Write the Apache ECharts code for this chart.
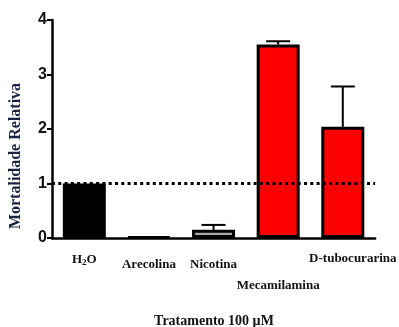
<!DOCTYPE html>
<html><head><meta charset="utf-8">
<script src="https://cdn.jsdelivr.net/npm/echarts@6/dist/echarts.min.js"></script>
<style>html,body{margin:0;padding:0;background:#fff}#c{width:399px;height:327px}</style>
</head><body><div id="c"></div>
<script>
var categories = ['H2O', 'Arecolina', 'Nicotina', 'Mecamilamina', 'D-tubocurarina'];
var values = [1.0, 0.02, 0.15, 3.55, 2.04];
var errors = [0, 0, 0.09, 0.06, 0.74];
var fills = ['#000000', '#000000', '#a6a6a6', '#ff0000', '#ff0000'];
var yTicks = [0, 1, 2, 3, 4];
var refLine = 1;
var xTitle = 'Tratamento 100 \u00b5M';
var yTitle = 'Mortalidade Relativa';

var serif = 'Liberation Serif';
var chart = echarts.init(document.getElementById('c'), null, {renderer: 'canvas'});
chart.setOption({
  animation: false,
  grid: {left: 52, right: 19, top: 20, bottom: 89},
  xAxis: {
    type: 'category', data: categories,
    axisLine: {lineStyle: {color: '#000', width: 2.5}},
    axisTick: {show: false},
    axisLabel: {
      margin: 14, interval: 0,
      formatter: function (v) {
        if (v === 'H2O') return '{h2o|H}{sub|2}{h2o|O}';
        if (v === 'Mecamilamina') return '{low|' + v + '}';
        if (v === 'D-tubocurarina') return '{right|' + v + '}';
        return '{n|' + v + '}';
      },
      rich: {
        h2o: {fontFamily: serif, fontWeight: 'bold', fontSize: 13, color: '#111'},
        sub: {fontFamily: serif, fontWeight: 'bold', fontSize: 9, color: '#111', padding: [6, 0, 0, 0]},
        n: {fontFamily: serif, fontWeight: 'bold', fontSize: 13, color: '#111', padding: [6, 0, 0, 0]},
        low: {fontFamily: serif, fontWeight: 'bold', fontSize: 13, color: '#111', padding: [27, 0, 0, 0]},
        right: {fontFamily: serif, fontWeight: 'bold', fontSize: 13, color: '#111', padding: [0, 0, 0, 20]}
      }
    }
  },
  yAxis: {
    type: 'value', min: 0, max: 4, interval: 1,
    splitLine: {show: false},
    axisLine: {show: true, lineStyle: {color: '#000', width: 2.5}},
    axisTick: {show: true, length: 5, lineStyle: {color: '#000', width: 2}},
    axisLabel: {fontFamily: 'Liberation Sans', fontWeight: 'bold', fontSize: 16, color: '#111', margin: 5,
      formatter: function (v) { return yTicks.indexOf(v) >= 0 ? String(v) : ''; }}
  },
  graphic: [
    {type: 'text', x: 16, y: 156, rotation: Math.PI / 2,
      style: {text: yTitle, fill: '#1c2340', font: 'bold 16px "Liberation Serif"', textAlign: 'center', textVerticalAlign: 'middle'}},
    {type: 'text', x: 214, y: 321,
      style: {text: xTitle, fill: '#111', font: 'bold 14px "Liberation Serif"', textAlign: 'center', textVerticalAlign: 'middle'}}
  ],
  series: [
    {
      type: 'bar', barWidth: 43,
      data: values.map(function (v, i) {
        return {value: v, itemStyle: {color: fills[i], borderColor: '#000', borderWidth: 3}};
      }),
      markLine: {
        silent: true, symbol: 'none', label: {show: false}, z: 10,
        lineStyle: {color: '#000', type: [3, 3.3], width: 3},
        data: [{yAxis: refLine}]
      }
    },
    {
      type: 'custom', z: 5,
      data: values.map(function (v, i) { return [i, v, v + errors[i]]; }),
      renderItem: function (params, api) {
        var i = api.value(0);
        if (errors[i] <= 0) return null;
        var p0 = api.coord([i, api.value(1)]);
        var p1 = api.coord([i, api.value(2)]);
        var hw = 12;
        var style = {stroke: '#000', lineWidth: 2};
        return {type: 'group', children: [
          {type: 'line', shape: {x1: p0[0], y1: p0[1], x2: p1[0], y2: p1[1]}, style: style},
          {type: 'line', shape: {x1: p1[0] - hw, y1: p1[1], x2: p1[0] + hw, y2: p1[1]}, style: style}
        ]};
      }
    }
  ]
});
</script></body></html>
